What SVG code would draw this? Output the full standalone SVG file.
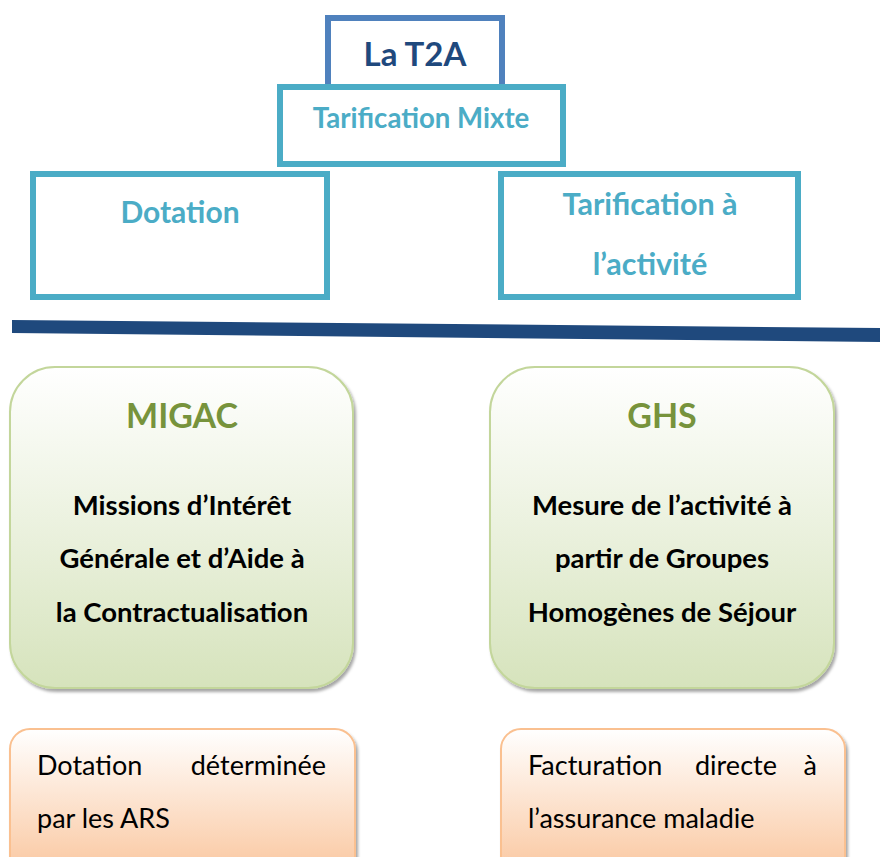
<svg xmlns="http://www.w3.org/2000/svg" width="880" height="857" viewBox="0 0 880 857">
<style>
.frame{fill:#FFFFFF;stroke:#4BACC6;stroke-width:6}
.top{font-family:Lato,"Open Sans",sans-serif;font-weight:bold;fill:#4BACC6;text-anchor:middle}
.green{fill:url(#gGreen);stroke:#C3D69B;stroke-width:2;filter:url(#sh)}
.peach{fill:url(#gPeach);stroke:#FAC090;stroke-width:2;filter:url(#sh)}
.head{font-family:Lato,"Open Sans",sans-serif;font-weight:bold;font-size:34px;fill:#77933C;text-anchor:middle}
.body{font-family:Lato,"Open Sans",sans-serif;font-weight:bold;font-size:27.5px;fill:#000000;text-anchor:middle}
.note{font-family:Lato,"Open Sans",sans-serif;font-size:27px;fill:#000000}
</style>
<defs>
<linearGradient id="gGreen" x1="0" y1="0" x2="0" y2="1">
<stop offset="0" stop-color="#FFFFFF"/>
<stop offset="0.55" stop-color="#E9F0DB"/>
<stop offset="1" stop-color="#D6E3BC"/>
</linearGradient>
<linearGradient id="gPeach" x1="0" y1="0" x2="0" y2="1">
<stop offset="0" stop-color="#FFFFFF"/>
<stop offset="1" stop-color="#FAC59C"/>
</linearGradient>
<filter id="sh" x="-10%" y="-10%" width="120%" height="120%">
<feDropShadow dx="2" dy="3" stdDeviation="1.5" flood-color="#000000" flood-opacity="0.35"/>
</filter>
</defs>
<rect width="880" height="857" fill="#FFFFFF"/>

<g id="t2a">
<rect x="328" y="18" width="174" height="80" fill="#FFFFFF" stroke="#4F81BD" stroke-width="6"/>
<text x="415" y="66" style="font-family:Lato,'Open Sans',sans-serif;font-weight:bold;font-size:33px;fill:#1F497D;text-anchor:middle">La T2A</text>
</g>
<g id="mixte">
<rect class="frame" x="280" y="87" width="283" height="77"/>
<text class="top" x="421" y="128" font-size="27.6">Tarification Mixte</text>
</g>
<g id="dotation">
<rect class="frame" x="33" y="174" width="294" height="123"/>
<text class="top" x="180" y="223" font-size="30">Dotation</text>
</g>
<g id="activite">
<rect class="frame" x="501" y="174" width="297" height="123"/>
<text class="top" x="650" y="215" font-size="30.5">Tarification à</text>
<text class="top" x="650" y="275" font-size="30.5">l’activité</text>
</g>

<g id="connectors">
<polygon points="12,320 880,328 880,342 12,333" fill="#1F497D"/>
</g>

<g id="migac">
<rect class="green" x="10" y="367" width="343" height="321" rx="45"/>
<text class="head" x="182" y="428">MIGAC</text>
<text class="body" x="182" y="515">Missions d’Intérêt</text>
<text class="body" x="182" y="568">Générale et d’Aide à</text>
<text class="body" x="182" y="622">la Contractualisation</text>
</g>
<g id="ghs">
<rect class="green" x="490" y="367" width="344" height="321" rx="45"/>
<text class="head" x="662" y="428">GHS</text>
<text class="body" x="662" y="515">Mesure de l’activité à</text>
<text class="body" x="662" y="568">partir de Groupes</text>
<text class="body" x="662" y="622">Homogènes de Séjour</text>
</g>

<g id="note-ars">
<rect class="peach" x="10" y="729" width="345" height="150" rx="20"/>
<text class="note" y="775"><tspan x="37">Dotation</tspan><tspan x="326" text-anchor="end">déterminée</tspan></text>
<text class="note" x="37" y="828">par les ARS</text>
</g>
<g id="note-am">
<rect class="peach" x="501" y="729" width="344" height="150" rx="20"/>
<text class="note" y="775"><tspan x="528">Facturation</tspan><tspan x="695">directe</tspan><tspan x="817" text-anchor="end">à</tspan></text>
<text class="note" x="528" y="828">l’assurance maladie</text>
</g>
</svg>
